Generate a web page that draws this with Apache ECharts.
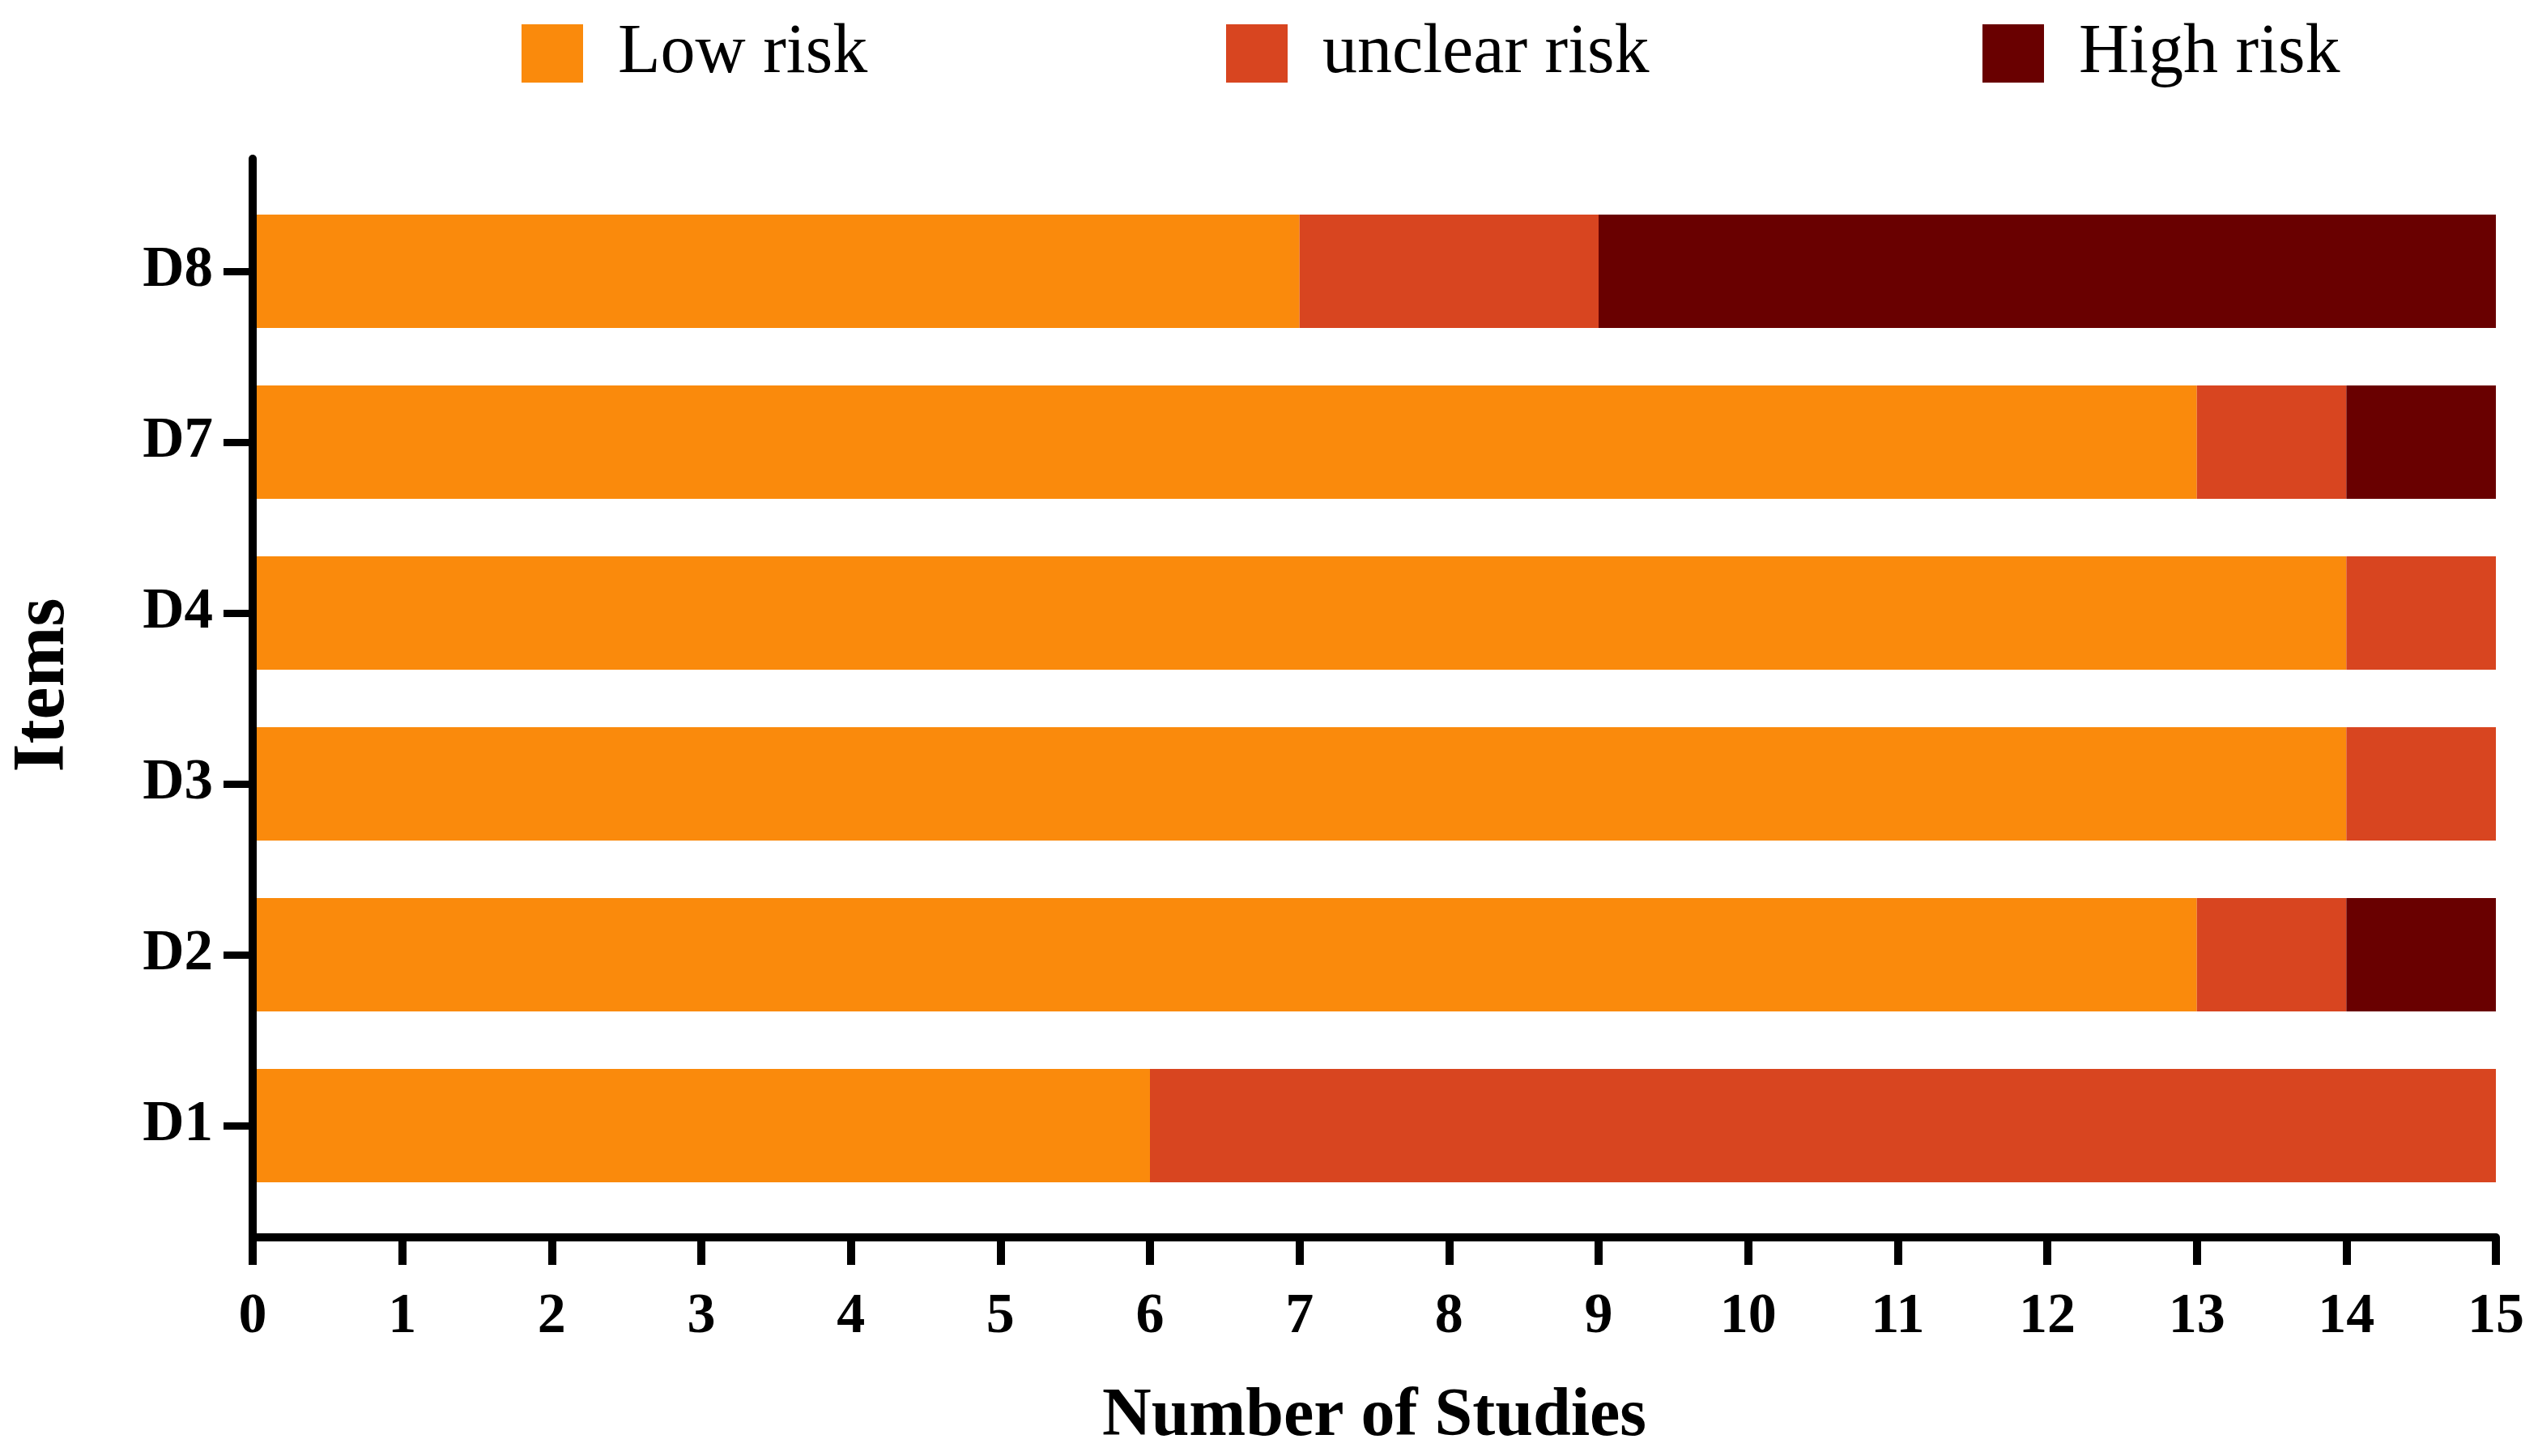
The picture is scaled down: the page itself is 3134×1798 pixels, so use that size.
<!DOCTYPE html>
<html>
<head>
<meta charset="utf-8">
<script src="https://cdn.jsdelivr.net/npm/echarts@6/dist/echarts.min.js"></script>
<style>
html,body{margin:0;padding:0;background:#fff;}
#chart{width:3134px;height:1798px;}
</style>
</head>
<body>
<div id="chart"></div>
<script>
const categories = ['D1', 'D2', 'D3', 'D4', 'D7', 'D8'];
const lowRisk = [6, 13, 14, 14, 13, 7];
const unclearRisk = [9, 1, 1, 1, 1, 2];
const highRisk = [0, 1, 0, 0, 1, 6];
const xTicks = [0, 15, 1];
const seriesNames = ['Low risk', 'unclear risk', 'High risk'];
const colors = ['#FA8A0C', '#D84520', '#690000'];

const FONT = "'Palatino Linotype','Book Antiqua',Palatino,'Liberation Serif',serif";

const chart = echarts.init(document.getElementById('chart'));

function legendFor(i, left) {
  return {
    show: true,
    data: [seriesNames[i]],
    left: left,
    top: 23,
    padding: 0,
    icon: 'rect',
    itemWidth: 76,
    itemHeight: 72,
    selectedMode: false,
    textStyle: {
      fontFamily: FONT,
      fontSize: 86,
      color: '#000',
      padding: [0, 0, 0, 38]
    }
  };
}

const option = {
  backgroundColor: '#fff',
  animation: false,
  legend: [legendFor(0, 644), legendFor(1, 1514), legendFor(2, 2448)],
  grid: [
    { left: 312, width: 2770, top: 229.5, height: 1266 },
    { left: 312, width: 2770, top: 196, height: 1332 }
  ],
  xAxis: [
    { gridIndex: 0, type: 'value', min: xTicks[0], max: xTicks[1], interval: xTicks[2], show: false },
    {
      gridIndex: 1, type: 'value', min: xTicks[0], max: xTicks[1], interval: xTicks[2], z: 10,
      name: 'Number of Studies', nameLocation: 'middle', nameGap: 180,
      nameTextStyle: { fontFamily: FONT, fontSize: 84, fontWeight: 'bold', color: '#000' },
      axisLine: { show: true, lineStyle: { color: '#000', width: 10 } },
      axisTick: { show: true, length: 34, lineStyle: { color: '#000', width: 10 } },
      axisLabel: { show: true, margin: 64, fontFamily: FONT, fontSize: 70, fontWeight: 'bold', color: '#000' },
      splitLine: { show: false }
    }
  ],
  yAxis: [
    {
      gridIndex: 0, type: 'category', data: categories,
      axisLine: { show: false },
      axisTick: { show: true, alignWithLabel: true, length: 36, lineStyle: { color: '#000', width: 9 } },
      axisLabel: { show: true, margin: 49, fontFamily: FONT, fontSize: 71, fontWeight: 'bold', color: '#000' },
      splitLine: { show: false }
    },
    {
      gridIndex: 1, type: 'value', min: 0, max: 1, z: 10,
      name: 'Items', nameLocation: 'middle', nameGap: 212,
      nameTextStyle: { fontFamily: FONT, fontSize: 90, fontWeight: 'bold', color: '#000', padding: [0, 0, 0, 32] },
      axisLine: { show: true, lineStyle: { color: '#000', width: 10 } },
      axisTick: { show: false },
      axisLabel: { show: false },
      splitLine: { show: false }
    }
  ],
  series: [
    { name: seriesNames[0], type: 'bar', stack: 'total', xAxisIndex: 0, yAxisIndex: 0, data: lowRisk, barCategoryGap: '33.7%', itemStyle: { color: colors[0] } },
    { name: seriesNames[1], type: 'bar', stack: 'total', xAxisIndex: 0, yAxisIndex: 0, data: unclearRisk, barCategoryGap: '33.7%', itemStyle: { color: colors[1] } },
    { name: seriesNames[2], type: 'bar', stack: 'total', xAxisIndex: 0, yAxisIndex: 0, data: highRisk, barCategoryGap: '33.7%', itemStyle: { color: colors[2] } }
  ]
};
chart.setOption(option);
</script>
</body>
</html>
